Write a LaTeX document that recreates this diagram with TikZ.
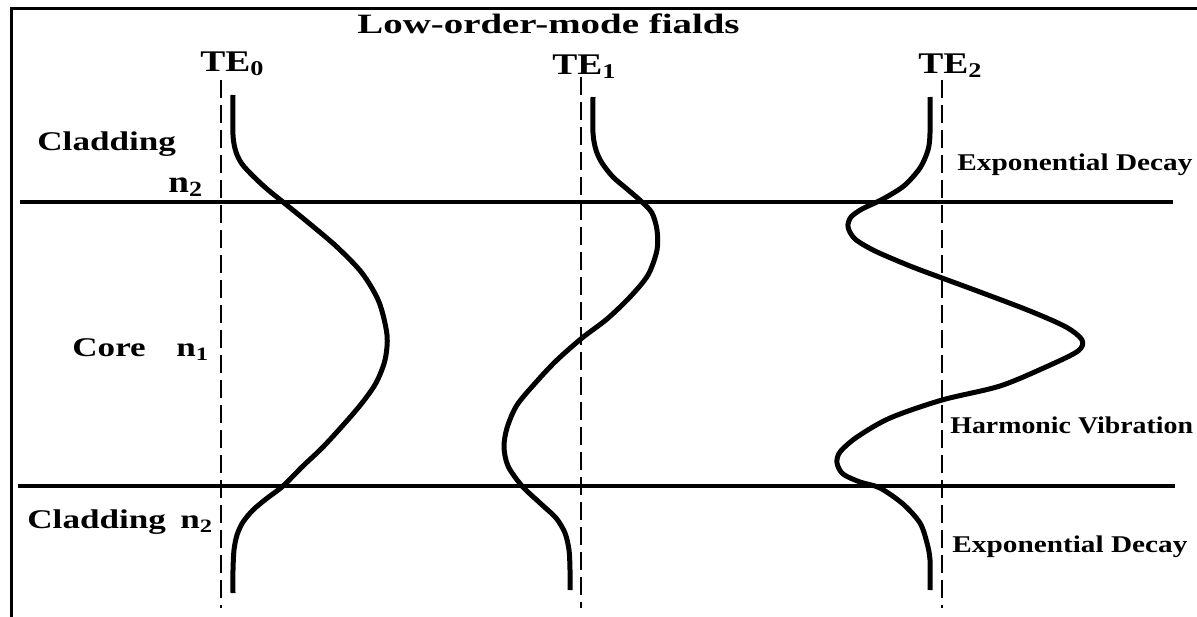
\documentclass[tikz,border=0pt]{standalone}
\usepackage{fontspec}
\usepackage{graphicx}
\setmainfont{Liberation Serif}
\tikzset{
  frame/.style={line width=1.5pt},
  boundary/.style={line width=2pt},
  axis/.style={line width=0.7pt, dash pattern=on 9pt off 3.5pt},
  field/.style={line width=2.5pt, line join=round, line cap=butt},
  txt/.style={inner sep=0pt, anchor=base west, font=\bfseries},
}
\newcommand{\sx}[2]{\scalebox{#1}[1]{#2}}
\begin{document}
\begin{tikzpicture}[x=0.5pt, y=-0.5pt]
\useasboundingbox (0,0) rectangle (1197,616);
\fill[white] (0,0) rectangle (1197,616);
\begin{scope}
\clip (0,0) rectangle (1197,616);
\draw[frame] (11.5,8) rectangle (1230,650);
\end{scope}
% core/cladding boundaries
\draw[boundary] (20,201.7) -- (1173,201.7);
\draw[boundary] (18,486) -- (1175,486);
% mode axes
\draw[axis] (221,80) -- (221,608);
\draw[axis] (581,77) -- (581,608);
\draw[axis] (942,80) -- (942,608);
% TE0
\draw[field] plot[smooth, tension=0.5] coordinates {
 (233,95) (233,135) (236,152) (242,164) (253,176) (267,189) (283,202)
 (310,224) (337,247) (362,273) (379,302) (387,335) (385,360) (376,383)
 (362,403) (345,423) (323,447) (303,466) (283,486)
 (266,499) (253,510) (243,522) (237,535) (234,550) (233,570) (233,593)};
% TE1
\draw[field] plot[smooth, tension=0.5] coordinates {
 (593,97) (593,133) (596,150) (602,163) (613,177) (627,189) (642,202)
 (652,213) (657,230) (657,250) (648,275) (630,297) (607,319) (582,338)
 (557,360) (538,380) (517,405) (507,428) (504,447) (508,466) (522,486)
 (540,503) (556,518) (565,533) (569,550) (570,570) (570,590)};
% TE2
\draw[field] plot[smooth, tension=0.5] coordinates {
 (930,97) (930,133) (928,150) (920,168) (905,185) (890,195) (877,202)
 (862,209) (851,217) (848,227) (855,239) (875,251) (910,266) (942,278)
 (980,292) (1030,311) (1066,327) (1082,340) (1078,351) (1048,366)
 (1000,386) (942,400) (890,418) (857,437) (840,452) (837,463) (843,474)
 (860,482) (880,488) (903,504) (920,523) (927,543) (930,560) (930,590)};
% labels
\node[txt, anchor=base] (title) at (548.5,33) {\fontsize{14}{14}\selectfont\sx{1.39}{Low-order-mode fialds}};
\node[txt] (te0) at (200,71) {\fontsize{15}{15}\selectfont\sx{1.25}{TE\textsubscript{0}}};
\node[txt] (te1) at (552,74) {\fontsize{15}{15}\selectfont\sx{1.25}{TE\textsubscript{1}}};
\node[txt] (te2) at (918,73) {\fontsize{15}{15}\selectfont\sx{1.25}{TE\textsubscript{2}}};
\node[txt] (cladtop) at (37,150) {\fontsize{13.5}{13.5}\selectfont\sx{1.3}{Cladding}};
\node[txt] (ntop) at (168,192) {\fontsize{15.5}{15.5}\selectfont\sx{1.2}{n\textsubscript{2}}};
\node[txt] (core) at (72,356) {\fontsize{13.5}{13.5}\selectfont\sx{1.3}{Core}};
\node[txt] (ncore) at (176,356) {\fontsize{13.5}{13.5}\selectfont\sx{1.3}{n\textsubscript{1}}};
\node[txt] (cladbot) at (27,528) {\fontsize{13.5}{13.5}\selectfont\sx{1.3}{Cladding}};
\node[txt] (nbot) at (180,528) {\fontsize{13.5}{13.5}\selectfont\sx{1.3}{n\textsubscript{2}}};
\node[txt] (exptop) at (957,170) {\fontsize{12}{12}\selectfont\sx{1.22}{Exponential Decay}};
\node[txt] (harm) at (950,433) {\fontsize{12}{12}\selectfont\sx{1.16}{Harmonic Vibration}};
\node[txt] (expbot) at (952,552) {\fontsize{12}{12}\selectfont\sx{1.22}{Exponential Decay}};
\end{tikzpicture}
\end{document}
